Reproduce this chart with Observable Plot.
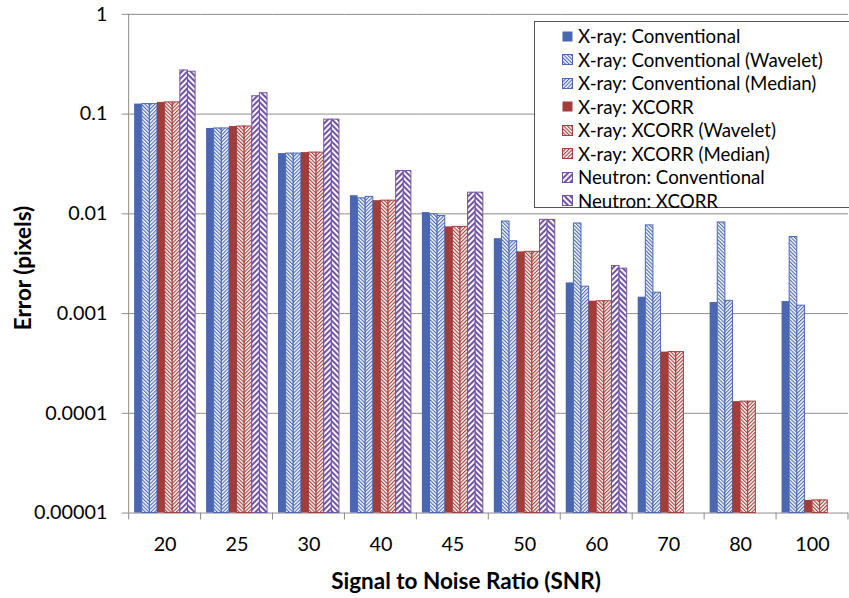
<!DOCTYPE html>
<html><head><meta charset="utf-8">
<script src="https://cdn.jsdelivr.net/npm/d3@7"></script>
<script src="https://cdn.jsdelivr.net/npm/@observablehq/plot@0.6"></script>
<style>
html,body{margin:0;padding:0;overflow:hidden;background:#fff;}
#wrap{position:relative;width:849px;height:598px;overflow:hidden;font-family:Lato,sans-serif;background:#fff;}
#chart{position:absolute;left:0;top:0;}
.title{position:absolute;font-weight:bold;font-size:22.5px;color:#000;white-space:nowrap;line-height:1;}
#xt{left:466px;top:581px;transform:translate(-50%,-50%);}
#yt{left:23px;top:268px;transform:translate(-50%,-50%) rotate(-90deg);}
#legend{position:absolute;left:534px;top:21px;width:330px;height:187px;border:1px solid #555;background:#fff;box-sizing:border-box;}
.item{position:absolute;left:27px;height:22px;display:flex;align-items:center;font-size:18.7px;white-space:nowrap;color:#000;}
.item svg{margin-right:5px;flex:none;}
</style></head>
<body>
<svg width="0" height="0" style="position:absolute"><defs id="defs"></defs></svg>
<div id="wrap">
  <div id="chart"></div>
  <div id="legend"></div>
  <div class="title" id="xt">Signal to Noise Ratio (SNR)</div>
  <div class="title" id="yt">Error (pixels)</div>
</div>
<script>
// ---- data ----
const snr = ["20", "25", "30", "40", "45", "50", "60", "70", "80", "100"];
const seriesNames = [
  "X-ray: Conventional",
  "X-ray: Conventional (Wavelet)",
  "X-ray: Conventional (Median)",
  "X-ray: XCORR",
  "X-ray: XCORR (Wavelet)",
  "X-ray: XCORR (Median)",
  "Neutron: Conventional",
  "Neutron: XCORR"
];
const xrayConv          = [0.126, 0.0718, 0.0402, 0.0152, 0.0103, 0.00564, 0.00203, 0.00146, 0.00129, 0.00132];
const xrayConvWavelet   = [0.126, 0.0718, 0.0402, 0.0143, 0.0099, 0.00838, 0.0080, 0.00766, 0.00819, 0.00586];
const xrayConvMedian    = [0.126, 0.0718, 0.0402, 0.0148, 0.0095, 0.00531, 0.00186, 0.00162, 0.00134, 0.0012];
const xrayXcorr         = [0.131, 0.0751, 0.0411, 0.01355, 0.0074, 0.00416, 0.00133, 0.000411, 0.000131, 0.0000134];
const xrayXcorrWavelet  = [0.131, 0.0751, 0.0411, 0.01355, 0.0074, 0.00416, 0.00133, 0.000411, 0.000131, 0.0000134];
const xrayXcorrMedian   = [0.131, 0.0751, 0.0411, 0.01355, 0.0074, 0.00416, 0.00133, 0.000411, 0.000131, 0.0000134];
const neutronConv       = [0.274, 0.151, 0.088, 0.0269, 0.0163, 0.0087, 0.0030, null, null, null];
const neutronXcorr      = [0.266, 0.162, 0.088, 0.0269, 0.0163, 0.0087, 0.00282, null, null, null];
const seriesValues = [xrayConv, xrayConvWavelet, xrayConvMedian, xrayXcorr, xrayXcorrWavelet, xrayXcorrMedian, neutronConv, neutronXcorr];

const yTicks = [1, 0.1, 0.01, 0.001, 0.0001, 0.00001];
const yTickLabels = ["1", "0.1", "0.01", "0.001", "0.0001", "0.00001"];
const yMin = 0.00001, yMax = 1;

// ---- styles ----
const BLUE = "#4a67b1", RED = "#a23d3b", PURPLE = "#7354a3", GRID = "#8c8c8c";
const seriesColor = [BLUE, BLUE, BLUE, RED, RED, RED, PURPLE, PURPLE];
// pattern: null = solid, otherwise [direction, period, lineWidth]
const seriesPattern = [null, ["\\", 2.6, 1.15], ["/", 2.6, 1.15], null, ["\\", 2.6, 1.15], ["/", 2.6, 1.15], ["/", 4.0, 2.1], ["\\", 4.0, 2.1]];

const defs = d3.select("#defs");
const fills = seriesNames.map((s, i) => {
  const p = seriesPattern[i];
  if (!p) return seriesColor[i];
  const id = "pat" + i;
  const pat = defs.append("pattern").attr("id", id).attr("patternUnits", "userSpaceOnUse")
    .attr("width", p[1]).attr("height", p[1])
    .attr("patternTransform", `rotate(${p[0] === "/" ? 45 : -45})`);
  pat.append("rect").attr("width", p[1]).attr("height", p[1]).attr("fill", "#fff");
  pat.append("rect").attr("x", 0).attr("width", p[2]).attr("height", p[1]).attr("fill", seriesColor[i]);
  return `url(#${id})`;
});
const fillOf = new Map(seriesNames.map((s, i) => [s, fills[i]]));
const strokeOf = new Map(seriesNames.map((s, i) => [s, seriesPattern[i] ? seriesColor[i] : "none"]));
const yLabelOf = new Map(yTicks.map((t, i) => [t, yTickLabels[i]]));

const data = [];
seriesNames.forEach((s, i) => seriesValues[i].forEach((v, j) => {
  if (v != null) data.push({snr: snr[j], series: s, value: v});
}));

const plot = Plot.plot({
  width: 858, height: 598,
  marginLeft: 130, marginRight: 1, marginTop: 14, marginBottom: 80,
  style: {fontFamily: "Lato, sans-serif", background: "#fff", overflow: "visible"},
  fx: {domain: snr, padding: 0, round: false, axis: null, label: null},
  x: {domain: seriesNames, paddingInner: 0, paddingOuter: 0.72, round: false, axis: null},
  y: {type: "log", domain: [yMin, yMax], axis: null},
  marks: [
    Plot.gridY(yTicks, {stroke: GRID, strokeOpacity: 1, strokeWidth: 1}),
    Plot.barY(data, {
      fx: "snr", x: "series",
      y1: () => yMin, y2: "value",
      fill: d => fillOf.get(d.series),
      stroke: d => strokeOf.get(d.series),
      strokeWidth: 1
    }),
    Plot.axisY(yTicks, {tickSize: 7, tickPadding: 15, fontSize: 20, stroke: GRID, fill: "#000",
      tickFormat: d => yLabelOf.get(d), label: null}),
    Plot.axisFx({anchor: "bottom", tickSize: 0, tickPadding: 24, fontSize: 20, fill: "#000", label: null})
  ]
});
document.getElementById("chart").appendChild(plot);

// category tick marks between groups and the vertical axis line, from the library's scales
const fxS = plot.scale("fx"), yS = plot.scale("y");
const fxApply = fxS.apply ? (v => fxS.apply(v)) :
  d3.scaleBand(fxS.domain, fxS.range).padding(0);
const yApply = yS.apply ? (v => yS.apply(v)) : d3.scaleLog(yS.domain, yS.range);
const bw = fxS.bandwidth != null ? fxS.bandwidth : fxApply.bandwidth();
const edges = snr.map(s => fxApply(s)).concat([fxApply(snr[snr.length - 1]) + bw]);
const y0 = yApply(yMin), yTop = yApply(yMax);
const g = d3.select(plot).append("g").attr("stroke", GRID).attr("stroke-width", 1);
g.selectAll("line.t").data(edges).join("line").attr("class", "t")
  .attr("x1", d => d).attr("x2", d => d).attr("y1", y0).attr("y2", y0 + 7);
g.append("line").attr("x1", edges[0]).attr("x2", edges[0]).attr("y1", yTop).attr("y2", y0);

// legend
const legend = d3.select("#legend");
seriesNames.forEach((s, i) => {
  const it = legend.append("div").attr("class", "item").style("top", (3 + i * 23.5) + "px");
  const sw = it.append("svg").attr("width", 11).attr("height", 11);
  sw.append("rect").attr("x", 0.5).attr("y", 0.5).attr("width", 10).attr("height", 10)
    .attr("fill", fills[i]).attr("stroke", seriesPattern[i] ? seriesColor[i] : "none");
  it.append("span").text(s);
});
</script>
</body></html>
